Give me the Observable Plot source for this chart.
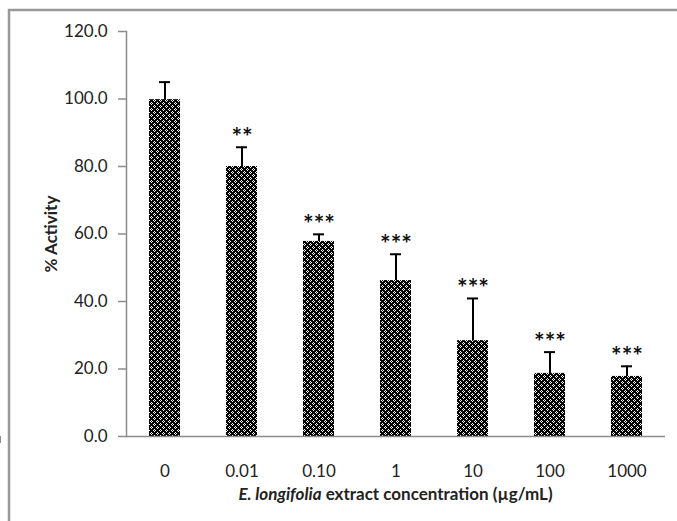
<!DOCTYPE html>
<html>
<head>
<meta charset="utf-8">
<script src="https://cdn.jsdelivr.net/npm/d3@7"></script>
<script src="https://cdn.jsdelivr.net/npm/@observablehq/plot@0.6"></script>
<style>
  body { margin: 0; background: #fff; }
  svg { font-family: Lato, "Open Sans", sans-serif; display: block; }
</style>
</head>
<body>
<script>
// Data
const concentrations = ["0", "0.01", "0.10", "1", "10", "100", "1000"];
const activity = [99.8, 80.0, 57.8, 46.2, 28.4, 18.7, 17.8];
const sd = [5.2, 5.7, 2.1, 7.8, 12.5, 6.3, 3.0];
const significance = ["", "**", "***", "***", "***", "***", "***"];
const yTicks = [0, 20, 40, 60, 80, 100, 120];

const data = concentrations.map((c, i) => ({c, v: activity[i], e: sd[i], s: significance[i]}));

const axisGray = "#8c8c8c";

// Boundary ticks between categories on the x axis
function boundaryTicks(index, scales, values, dims) {
  const x = scales.x, y = scales.y;
  const pos = concentrations.map(c => x(c));
  const step = pos[1] - pos[0];
  const bw = x.bandwidth ?? step * 0.4;
  const y0 = y(0);
  const g = d3.create("svg:g");
  const xs = pos.map(p => p + bw / 2 - step / 2);
  xs.push(pos[pos.length - 1] + bw / 2 + step / 2);
  for (const xv of xs) {
    g.append("line").attr("x1", xv).attr("x2", xv).attr("y1", y0).attr("y2", y0 + 7)
      .attr("stroke", axisGray).attr("stroke-width", 1.5);
  }
  return g.node();
}

const plot = Plot.plot({
  width: 677,
  height: 521,
  marginLeft: 126,
  marginRight: 12,
  marginTop: 31,
  marginBottom: 85,
  style: {fontFamily: "Lato, 'Open Sans', sans-serif", fontSize: "17px", color: "#222", background: "#fff"},
  x: {domain: concentrations, paddingInner: 0.6, paddingOuter: 0.3, label: null},
  y: {domain: [0, 120], label: null},
  marks: [
    Plot.barY(data, {x: "c", y: "v", fill: "url(#checker)"}),
    Plot.ruleX(data, {x: "c", y1: "v", y2: d => d.v + d.e, stroke: "#000", strokeWidth: 2}),
    Plot.tickY(data, {x: "c", y: d => d.v + d.e, stroke: "#000", strokeWidth: 2, insetLeft: 10, insetRight: 10}),
    Plot.text(data, {x: "c", y: d => d.v + d.e, text: "s", dy: -9, fontSize: 25, fontWeight: "bold", fill: "#111"}),
    Plot.ruleY([0], {stroke: axisGray, strokeWidth: 1.5}),
    Plot.frame({anchor: "left", stroke: axisGray, strokeWidth: 1.5}),
    Plot.axisY({ticks: yTicks, tickFormat: d => d.toFixed(1), tickSize: 8, tickPadding: 11, stroke: axisGray, strokeWidth: 1.5,
      fontSize: 17, label: "% Activity", labelAnchor: "center", labelOffset: 82, labelArrow: "none"}),
    Plot.axisX({tickSize: 0, tickPadding: 28, fontSize: 17, label: null}),
    boundaryTicks
  ]
});

const svg = d3.select(plot);
const defs = svg.insert("defs", ":first-child");
const pat = defs.append("pattern").attr("id", "checker").attr("patternUnits", "userSpaceOnUse")
  .attr("width", 6).attr("height", 6);
pat.append("rect").attr("width", 6).attr("height", 6).attr("fill", "#000");
for (const [px, py] of [[1,0],[0,1],[2,1],[1,2],[4,3],[3,4],[5,4],[4,5]]) {
  pat.append("rect").attr("x", px).attr("y", py).attr("width", 1).attr("height", 1).attr("fill", "#fff");
}

// Outer chart-area border (top and left edges visible)
svg.append("rect").attr("x", 9).attr("y", 10).attr("width", 700).attr("height", 600)
  .attr("fill", "none").attr("stroke", "#999").attr("stroke-width", 2.5);

// Axis label fonts: y label style
svg.selectAll("[aria-label='y-axis label'] text").attr("font-weight", "bold").attr("font-size", 17);

// x-axis title with mixed styling
const t = svg.append("text")
  .attr("x", (126 + 665) / 2).attr("y", 500)
  .attr("text-anchor", "middle").attr("font-size", 17).attr("font-weight", "bold").attr("fill", "#222");
t.append("tspan").attr("font-style", "italic").text("E. longifolia");
t.append("tspan").text(" extract concentration (µg/mL)");

document.body.appendChild(plot);
</script>
</body>
</html>
